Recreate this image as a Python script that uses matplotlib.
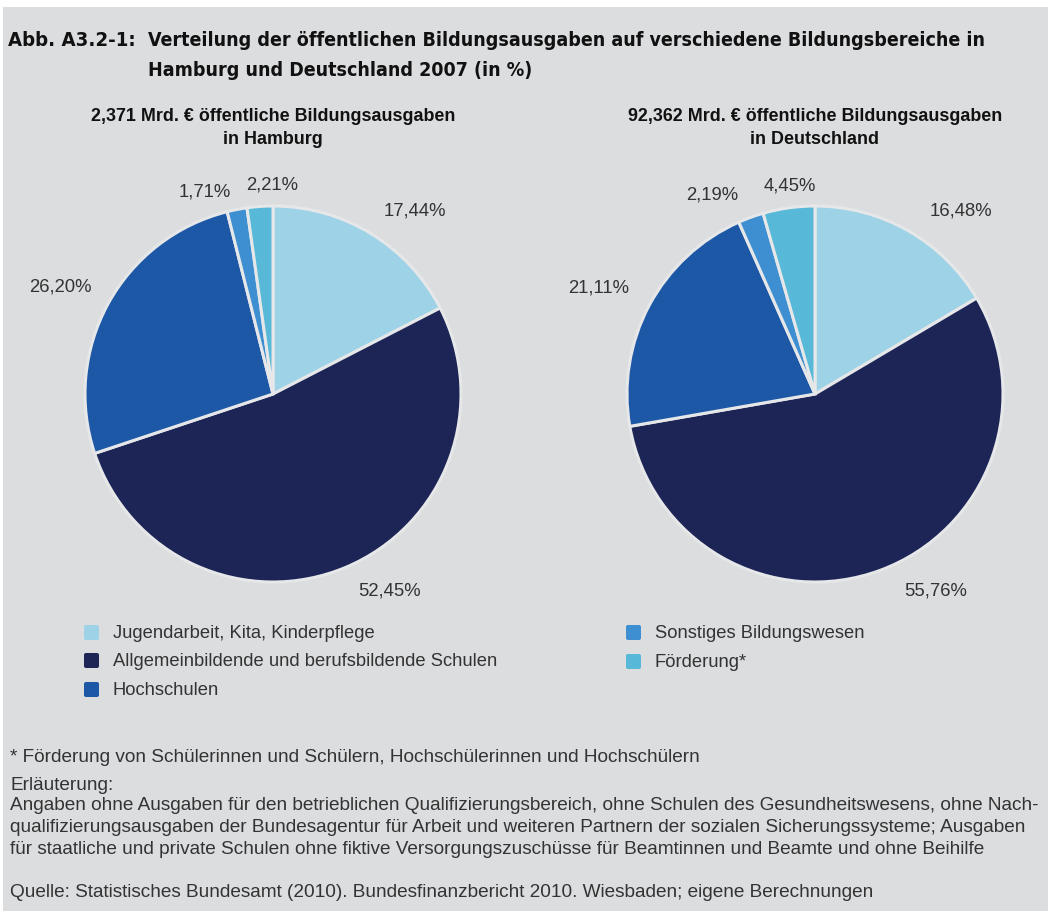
import matplotlib
matplotlib.use("Agg")
import matplotlib.pyplot as plt
from matplotlib.patches import Rectangle, FancyBboxPatch

W, H = 1051, 912
DPI = 100

categories = ["Jugendarbeit, Kita, Kinderpflege",
              "Allgemeinbildende und berufsbildende Schulen",
              "Hochschulen",
              "Sonstiges Bildungswesen",
              "Förderung*"]
hamburg = [17.44, 52.45, 26.20, 1.71, 2.21]
deutschland = [16.48, 55.76, 21.11, 2.19, 4.45]
hamburg_labels = ["17,44%", "52,45%", "26,20%", "1,71%", "2,21%"]
deutschland_labels = ["16,48%", "55,76%", "21,11%", "2,19%", "4,45%"]
colors = ["#9ed2e7", "#1c2556", "#1d58a6", "#3d8fd1", "#57b8d8"]

title1 = "Abb. A3.2-1:"
title2 = "Verteilung der öffentlichen Bildungsausgaben auf verschiedene Bildungsbereiche in"
title3 = "Hamburg und Deutschland 2007 (in %)"
sub_hh = "2,371 Mrd. € öffentliche Bildungsausgaben\nin Hamburg"
sub_de = "92,362 Mrd. € öffentliche Bildungsausgaben\nin Deutschland"
foot = ["* Förderung von Schülerinnen und Schülern, Hochschülerinnen und Hochschülern",
        "Erläuterung:",
        "Angaben ohne Ausgaben für den betrieblichen Qualifizierungsbereich, ohne Schulen des Gesundheitswesens, ohne Nach-",
        "qualifizierungsausgaben der Bundesagentur für Arbeit und weiteren Partnern der sozialen Sicherungssysteme; Ausgaben",
        "für staatliche und private Schulen ohne fiktive Versorgungszuschüsse für Beamtinnen und Beamte und ohne Beihilfe",
        "Quelle: Statistisches Bundesamt (2010). Bundesfinanzbericht 2010. Wiesbaden; eigene Berechnungen"]

REG = "Liberation Sans"
plt.rcParams["font.family"] = [REG, "DejaVu Sans"]

fig = plt.figure(figsize=(W / DPI, H / DPI), dpi=DPI)
fig.patch.set_facecolor("white")
BG = "#dcdddf"
fig.patches.append(Rectangle((3 / W, 0), (W - 6) / W, (H - 8) / H, transform=fig.transFigure,
                             facecolor=BG, edgecolor="none", zorder=-10))

def fx(x):
    return x / W

def fy(y):
    return 1 - y / H

renderer = fig.canvas.get_renderer()

def fit(t, target):
    bb = t.get_window_extent(renderer=renderer)
    t.set_fontsize(t.get_fontsize() * target / bb.width)

# Titles (condensed bold)
tkw = dict(family="DejaVu Sans", fontstretch="condensed", weight="bold", va="center", color="#111111")
t = fig.text(fx(8), fy(41), title1, fontsize=16, **tkw)
t2 = fig.text(fx(148), fy(41), title2, fontsize=16, **tkw)
fit(t2, 983 - 148)
t.set_fontsize(t2.get_fontsize())
fit(t, 136 - 8)
t3 = fig.text(fx(148), fy(70), title3, fontsize=t2.get_fontsize(), **tkw)

def draw_pie(cx, cy, R, values, labels, label_pos, subtitle):
    ax = fig.add_axes([fx(cx - R), fy(cy + R), 2 * R / W, 2 * R / H])
    ax.pie(values, colors=colors, startangle=90, counterclock=False, radius=1,
           wedgeprops=dict(edgecolor="#e6e7e9", linewidth=2.2))
    ax.set_xlim(-1, 1)
    ax.set_ylim(-1, 1)
    ax.set_aspect("equal")
    ax.axis("off")
    for lab, (dx, dy) in zip(labels, label_pos):
        ax.text(dx / R, dy / R, lab, ha="center", va="center", fontsize=13.3, color="#333333")
    fig.text(fx(cx), fy(128), subtitle, ha="center", va="center", fontsize=12.9,
             weight="bold", color="#111111", linespacing=1.4)

draw_pie(273, 395, 188, hamburg, hamburg_labels,
         [(142, 184), (117, -196), (-213, 108), (-68, 203), (-1, 210)], sub_hh)
draw_pie(815, 395, 188, deutschland, deutschland_labels,
         [(146, 184), (121, -196), (-216, 107), (-103, 200), (-25, 209)], sub_de)

# Legend
leg_pos = [(84, 634), (84, 662), (84, 691), (626, 634), (626, 663)]
for (x, y), c, lab in zip(leg_pos, colors, categories):
    fig.patches.append(FancyBboxPatch((fx(x), fy(y + 7)), 15 / W, 15 / H,
                                      boxstyle="round,pad=0,rounding_size=0.002",
                                      transform=fig.transFigure, facecolor=c, edgecolor="none"))
    fig.text(fx(x + 29), fy(y), lab, va="center", fontsize=13.2, color="#333333")

# Footnotes
foot_y = [757, 786, 806, 828, 850, 893]
ref = fig.text(fx(10), fy(foot_y[2]), foot[2], va="center", fontsize=12, color="#333333")
fit(ref, 1044 - 10)
fs = ref.get_fontsize()
for i, (s, y) in enumerate(zip(foot, foot_y)):
    if i == 2:
        continue
    fig.text(fx(10), fy(y), s, va="center", fontsize=fs, color="#333333")

fig.savefig("out.png", dpi=DPI, facecolor=fig.get_facecolor())
